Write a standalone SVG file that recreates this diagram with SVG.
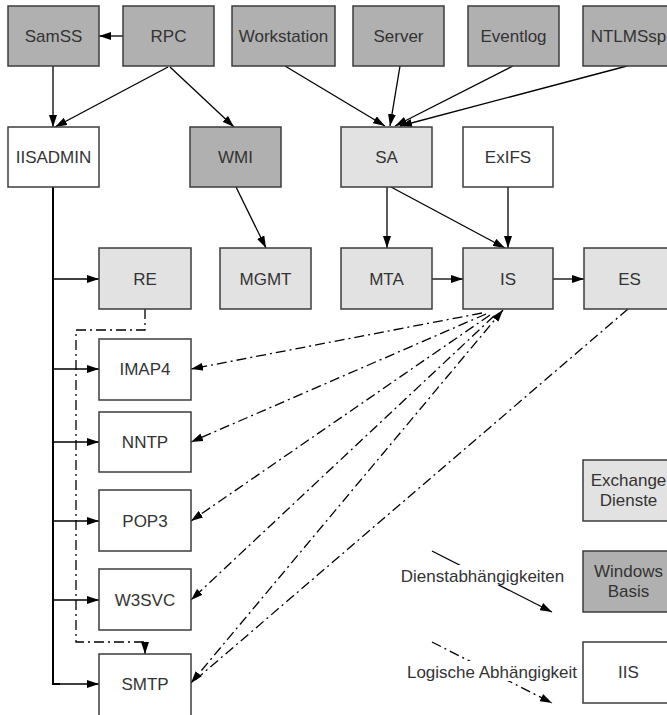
<svg xmlns="http://www.w3.org/2000/svg" width="667" height="715" viewBox="0 0 667 715">
  <defs>
    <marker id="arrow" viewBox="0 0 12 8" markerUnits="userSpaceOnUse" markerWidth="12" markerHeight="8" refX="12" refY="4" orient="auto-start-reverse">
      <path d="M0,0 L12,4 L0,8 z" fill="#000"/>
    </marker>
    <style>
      .box { stroke: #3c3c3c; stroke-width: 1.5; }
      .base { fill: #b0b0b0; }
      .exch { fill: #e2e2e2; }
      .iis { fill: #ffffff; }
      .lbl { font-family: "Liberation Sans", Arial, sans-serif; font-size: 17px; fill: #333; text-anchor: middle; }
      .dep { fill: none; stroke: #000; stroke-width: 1.3; }
      .log { fill: none; stroke: #000; stroke-width: 1.3; stroke-dasharray: 10 4 2 4; }
      .trunk { fill: none; stroke: #000; stroke-width: 2; }
    </style>
  </defs>
  <rect width="667" height="715" fill="#fff"/>

  <!-- connectors -->
  <g id="connectors">
    <!-- service dependencies -->
    <line class="dep" x1="123" y1="36" x2="99" y2="36" marker-end="url(#arrow)"/>
    <line class="dep" x1="53" y1="66" x2="53" y2="127" marker-end="url(#arrow)"/>
    <line class="dep" x1="168" y1="67" x2="55" y2="127" marker-end="url(#arrow)"/>
    <line class="dep" x1="170" y1="67" x2="234" y2="127" marker-end="url(#arrow)"/>
    <line class="dep" x1="285" y1="66" x2="385" y2="126" marker-end="url(#arrow)"/>
    <line class="dep" x1="400" y1="66" x2="390" y2="126" marker-end="url(#arrow)"/>
    <line class="dep" x1="513" y1="66" x2="395" y2="126" marker-end="url(#arrow)"/>
    <line class="dep" x1="627" y1="66" x2="400" y2="126" marker-end="url(#arrow)"/>
    <line class="dep" x1="236" y1="187" x2="266" y2="248" marker-end="url(#arrow)"/>
    <line class="dep" x1="387" y1="187" x2="387" y2="248" marker-end="url(#arrow)"/>
    <line class="dep" x1="391" y1="187" x2="505" y2="248" marker-end="url(#arrow)"/>
    <line class="dep" x1="508" y1="187" x2="508" y2="248" marker-end="url(#arrow)"/>
    <line class="dep" x1="432" y1="279" x2="463" y2="279" marker-end="url(#arrow)"/>
    <line class="dep" x1="553" y1="279" x2="584" y2="279" marker-end="url(#arrow)"/>

    <!-- IISADMIN trunk and branches -->
    <polyline class="trunk" points="53,187 53,684 60,684"/>
    <line class="dep" x1="53" y1="279" x2="99" y2="279" marker-end="url(#arrow)"/>
    <line class="dep" x1="53" y1="369" x2="99" y2="369" marker-end="url(#arrow)"/>
    <line class="dep" x1="53" y1="442" x2="99" y2="442" marker-end="url(#arrow)"/>
    <line class="dep" x1="53" y1="521" x2="99" y2="521" marker-end="url(#arrow)"/>
    <line class="dep" x1="53" y1="600" x2="99" y2="600" marker-end="url(#arrow)"/>
    <line class="dep" x1="53" y1="684" x2="99" y2="684" marker-end="url(#arrow)"/>

    <!-- logical dependencies -->
    <polyline class="log" points="145,309 145,330 76,330 76,642 145,642 145,654" marker-end="url(#arrow)"/>
    <line class="log" x1="482" y1="313" x2="191" y2="369" marker-end="url(#arrow)"/>
    <line class="log" x1="486" y1="314" x2="191" y2="442" marker-end="url(#arrow)"/>
    <line class="log" x1="490" y1="315" x2="191" y2="521" marker-end="url(#arrow)"/>
    <line class="log" x1="494" y1="316" x2="191" y2="600" marker-end="url(#arrow)"/>
    <line class="log" x1="503" y1="310" x2="191" y2="683" marker-start="url(#arrow)" marker-end="url(#arrow)"/>
    <line class="log" x1="628" y1="309" x2="194" y2="681"/>

    <!-- legend samples -->
    <line class="dep" x1="432" y1="551" x2="552" y2="612" marker-end="url(#arrow)"/>
    <line class="log" x1="432" y1="642" x2="552" y2="703" marker-end="url(#arrow)"/>
  </g>

  <!-- Windows base services -->
  <g id="SamSS"><rect class="box base" x="8" y="6" width="91" height="60"/><text class="lbl" x="53.5" y="42">SamSS</text></g>
  <g id="RPC"><rect class="box base" x="123" y="6" width="91" height="60"/><text class="lbl" x="168.5" y="42">RPC</text></g>
  <g id="Workstation"><rect class="box base" x="232" y="6" width="103" height="60"/><text class="lbl" x="283.5" y="42">Workstation</text></g>
  <g id="Server"><rect class="box base" x="353" y="6" width="91" height="60"/><text class="lbl" x="398.5" y="42">Server</text></g>
  <g id="Eventlog"><rect class="box base" x="468" y="6" width="91" height="60"/><text class="lbl" x="513.5" y="42">Eventlog</text></g>
  <g id="NTLMSsp"><rect class="box base" x="583" y="6" width="91" height="60"/><text class="lbl" x="628.5" y="42">NTLMSsp</text></g>
  <g id="WMI"><rect class="box base" x="190" y="127" width="91" height="60"/><text class="lbl" x="235.5" y="163">WMI</text></g>

  <!-- IIS services -->
  <g id="IISADMIN"><rect class="box iis" x="8" y="127" width="91" height="60"/><text class="lbl" x="53.5" y="163">IISADMIN</text></g>
  <g id="ExIFS"><rect class="box iis" x="463" y="127" width="90" height="60"/><text class="lbl" x="508" y="163">ExIFS</text></g>
  <g id="IMAP4"><rect class="box iis" x="99" y="339" width="92" height="61"/><text class="lbl" x="145" y="375">IMAP4</text></g>
  <g id="NNTP"><rect class="box iis" x="99" y="412" width="92" height="60"/><text class="lbl" x="145" y="448">NNTP</text></g>
  <g id="POP3"><rect class="box iis" x="99" y="490" width="92" height="61"/><text class="lbl" x="145" y="527">POP3</text></g>
  <g id="W3SVC"><rect class="box iis" x="99" y="569" width="92" height="61"/><text class="lbl" x="145" y="606">W3SVC</text></g>
  <g id="SMTP"><rect class="box iis" x="99" y="654" width="92" height="62"/><text class="lbl" x="145" y="690">SMTP</text></g>

  <!-- Exchange services -->
  <g id="SA"><rect class="box exch" x="341" y="127" width="91" height="60"/><text class="lbl" x="386.5" y="163">SA</text></g>
  <g id="RE"><rect class="box exch" x="99" y="248" width="92" height="61"/><text class="lbl" x="145" y="285">RE</text></g>
  <g id="MGMT"><rect class="box exch" x="220" y="248" width="91" height="61"/><text class="lbl" x="265.5" y="285">MGMT</text></g>
  <g id="MTA"><rect class="box exch" x="341" y="248" width="91" height="61"/><text class="lbl" x="386.5" y="285">MTA</text></g>
  <g id="IS"><rect class="box exch" x="463" y="248" width="90" height="61"/><text class="lbl" x="508" y="285">IS</text></g>
  <g id="ES"><rect class="box exch" x="584" y="248" width="91" height="61"/><text class="lbl" x="629.5" y="285">ES</text></g>

  <!-- legend -->
  <g id="legend-exchange"><rect class="box exch" x="583" y="460" width="91" height="61"/><text class="lbl" x="628.5" y="486">Exchange</text><text class="lbl" x="628.5" y="506">Dienste</text></g>
  <g id="legend-windows"><rect class="box base" x="583" y="551" width="91" height="61"/><text class="lbl" x="628.5" y="577">Windows</text><text class="lbl" x="628.5" y="597">Basis</text></g>
  <g id="legend-iis"><rect class="box iis" x="583" y="642" width="91" height="61"/><text class="lbl" x="628.5" y="678">IIS</text></g>
  <g id="legend-dep-label"><rect x="399" y="565" width="168" height="20" fill="#fff"/><text class="lbl" x="482.5" y="582">Dienstabhängigkeiten</text></g>
  <g id="legend-log-label"><rect x="404" y="661" width="176" height="20" fill="#fff"/><text class="lbl" x="492" y="678">Logische Abhängigkeit</text></g>
</svg>
